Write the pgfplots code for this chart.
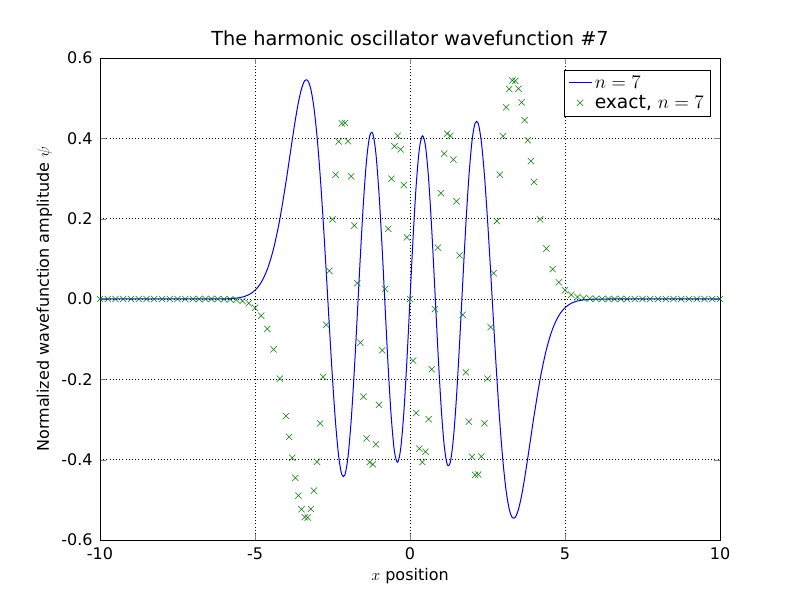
\documentclass[border=0pt]{standalone}
\usepackage{pgfplots}
\pgfplotsset{compat=1.18}
\usepackage{pgfplotstable}
\usepackage{fontspec}
\setmainfont{DejaVu Sans}
\pgfplotstableread{
x y
-10 0
-9.75 0
-9.5 0
-9.25 0
-9 0
-8.75 0
-8.5 0
-8.25 0
-8 0
-7.75 0
-7.5 0
-7.25 0
-7 0
-6.8 0
-6.6 0
-6.4 0
-6.2 -0.0001
-6.0 -0.00035
-5.8 -0.0009
-5.6 -0.0022
-5.4 -0.0050
-5.2 -0.0107
-5.0 -0.02165
-4.8 -0.0414
-4.6 -0.0744
-4.4 -0.1256
-4.2 -0.1983
-4.0 -0.2915
-3.9 -0.3432
-3.8 -0.3953
-3.7 -0.4453
-3.6 -0.4894
-3.5 -0.5233
-3.4 -0.5431
-3.3 -0.5441
-3.2 -0.5229
-3.1 -0.4769
-3.0 -0.4054
-2.9 -0.3098
-2.8 -0.1940
-2.7 -0.0645
-2.6 0.0698
-2.5 0.1983
-2.4 0.3094
-2.3 0.3922
-2.2 0.4371
-2.1 0.4381
-2.0 0.3929
-1.9 0.3051
-1.8 0.1828
-1.7 0.0394
-1.6 -0.1086
-1.5 -0.2432
-1.4 -0.3471
-1.3 -0.4062
-1.2 -0.4117
-1.1 -0.3621
-1.0 -0.2632
-0.9 -0.1279
-0.8 0.0253
-0.7 0.1748
-0.6 0.2993
-0.5 0.3805
-0.4 0.4062
-0.3 0.3724
-0.2 0.2838
-0.1 0.1532
0 0
0.1 -0.1532
0.2 -0.2838
0.3 -0.3724
0.4 -0.4062
0.5 -0.3805
0.6 -0.2993
0.7 -0.1748
0.8 -0.0253
0.9 0.1279
1.0 0.2632
1.1 0.3621
1.2 0.4117
1.3 0.4062
1.4 0.3471
1.5 0.2432
1.6 0.1086
1.7 -0.0394
1.8 -0.1828
1.9 -0.3051
2.0 -0.3929
2.1 -0.4381
2.2 -0.4371
2.3 -0.3922
2.4 -0.3094
2.5 -0.1983
2.6 -0.0698
2.7 0.0645
2.8 0.1940
2.9 0.3098
3.0 0.4054
3.1 0.4769
3.2 0.5229
3.3 0.5441
3.4 0.5431
3.5 0.5233
3.6 0.4894
3.7 0.4453
3.8 0.3953
3.9 0.3432
4.0 0.2915
4.2 0.1983
4.4 0.1256
4.6 0.0744
4.8 0.0414
5.0 0.02165
5.2 0.0107
5.4 0.0050
5.6 0.0022
5.8 0.0009
6.0 0.00035
6.2 0.0001
6.4 0
6.6 0
6.8 0
7 0
7.25 0
7.5 0
7.75 0
8 0
8.25 0
8.5 0
8.75 0
9 0
9.25 0
9.5 0
9.75 0
10 0
}\psidata
\begin{document}
\begin{tikzpicture}
\path (0,0) rectangle (600pt,450pt);
\begin{axis}[at={(75pt,45pt)}, anchor=south west,
  scale only axis, width=465pt, height=361.5pt,
  xmin=-10, xmax=10, ymin=-0.6, ymax=0.6,
  xtick={-10,-5,0,5,10},
  ytick={-0.6,-0.4,...,0.61},
  /pgf/number format/assume math mode=true,
  yticklabel style={/pgf/number format/fixed,/pgf/number format/fixed zerofill,/pgf/number format/precision=1},
  tick label style={font=\fontsize{12}{14}\selectfont},
  grid=major, major grid style={black, dotted},
  tick align=inside, ticklabel shift=2pt,
  title={The harmonic oscillator wavefunction \#7},
  title style={font=\fontsize{14.5}{17}\selectfont},
  xlabel={$x$ position}, ylabel={Normalized wavefunction amplitude $\psi$},
  label style={font=\fontsize{12}{14}\selectfont},
  legend style={at={(rel axis cs:0.985,0.975)}, anchor=north east, draw=black, font=\fontsize{14}{17}\selectfont, cells={anchor=west}},
  legend cell align=left,
]
\addplot[blue, line width=0.75pt, smooth] table[x=x, y expr=-\thisrow{y}] {\psidata};
\addlegendentry{$n=7$}
\addplot[only marks, mark=x, mark size=3.3pt, color=green!50!black] table[x=x,y=y] {\psidata};
\addlegendentry{exact, $n=7$}
\end{axis}
\end{tikzpicture}
\end{document}
